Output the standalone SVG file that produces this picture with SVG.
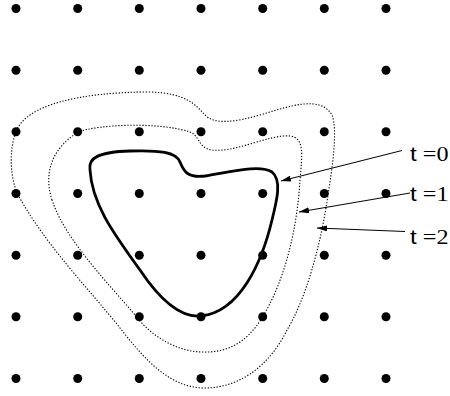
<svg xmlns="http://www.w3.org/2000/svg" width="450" height="396" viewBox="0 0 450 396">
<style>
.dot{fill:#000}
.c0{fill:none;stroke:#000;stroke-width:2.8;stroke-linejoin:round}
.cd{fill:none;stroke:#000;stroke-width:1.1;stroke-dasharray:1.3 1.7}
.arr{fill:none;stroke:#000;stroke-width:1;marker-end:url(#ah)}
.lbl{font-family:"Liberation Serif",serif;font-size:20px;fill:#000}
.ts{font-family:"Liberation Sans",sans-serif}
</style>
<defs>
<marker id="ah" viewBox="0 0 10 6" refX="10" refY="3" markerWidth="10" markerHeight="6" markerUnits="userSpaceOnUse" orient="auto">
<path d="M0,0 L10,3 L0,6 Z" fill="#000"/>
</marker>
<circle id="d" r="4.5"/>
</defs>
<g id="grid" class="dot">
<use href="#d" x="16" y="8.5"/><use href="#d" x="77.7" y="8.5"/><use href="#d" x="139.3" y="8.5"/><use href="#d" x="201" y="8.5"/><use href="#d" x="262.7" y="8.5"/><use href="#d" x="324.3" y="8.5"/><use href="#d" x="386" y="8.5"/>
<use href="#d" x="16" y="70.2"/><use href="#d" x="77.7" y="70.2"/><use href="#d" x="139.3" y="70.2"/><use href="#d" x="201" y="70.2"/><use href="#d" x="262.7" y="70.2"/><use href="#d" x="324.3" y="70.2"/><use href="#d" x="386" y="70.2"/>
<use href="#d" x="16" y="131.8"/><use href="#d" x="77.7" y="131.8"/><use href="#d" x="139.3" y="131.8"/><use href="#d" x="201" y="131.8"/><use href="#d" x="262.7" y="131.8"/><use href="#d" x="324.3" y="131.8"/><use href="#d" x="386" y="131.8"/>
<use href="#d" x="16" y="193.5"/><use href="#d" x="77.7" y="193.5"/><use href="#d" x="139.3" y="193.5"/><use href="#d" x="201" y="193.5"/><use href="#d" x="262.7" y="193.5"/><use href="#d" x="324.3" y="193.5"/><use href="#d" x="386" y="193.5"/>
<use href="#d" x="16" y="255.2"/><use href="#d" x="77.7" y="255.2"/><use href="#d" x="139.3" y="255.2"/><use href="#d" x="201" y="255.2"/><use href="#d" x="262.7" y="255.2"/><use href="#d" x="324.3" y="255.2"/><use href="#d" x="386" y="255.2"/>
<use href="#d" x="16" y="316.8"/><use href="#d" x="77.7" y="316.8"/><use href="#d" x="139.3" y="316.8"/><use href="#d" x="201" y="316.8"/><use href="#d" x="262.7" y="316.8"/><use href="#d" x="324.3" y="316.8"/><use href="#d" x="386" y="316.8"/>
<use href="#d" x="16" y="378.5"/><use href="#d" x="77.7" y="378.5"/><use href="#d" x="139.3" y="378.5"/><use href="#d" x="201" y="378.5"/><use href="#d" x="262.7" y="378.5"/><use href="#d" x="324.3" y="378.5"/><use href="#d" x="386" y="378.5"/>
</g>
<g id="curve-t0">
<path class="c0" d="M90,170 C88,158 98,152 130,151 C160,150 176,152 180,162 C184,172 188,178 205,176 C230,172 260,164 272,172 C282,180 277,200 272,220 C262,262 240,312 201,316 C180,318 160,300 140,270 C115,235 92,205 90,170 Z"/>
</g>
<g id="curve-t1">
<path class="cd" d="M52,200 C44,175 50,150 78,132 C100,124 160,122 190,132 C200,136 198,148 212,150 C235,153 270,134 290,136 C305,138 302,155 300,180 C297,230 285,280 262,318 C245,345 225,353 201,352 C175,351 150,335 135,315 C110,285 65,240 52,200 Z"/>
</g>
<g id="curve-t2">
<path class="cd" d="M17,193 C10,175 9,150 16,132 C25,105 80,92 150,92 C185,93 195,104 205,115 C215,125 235,122 260,115 C290,106 320,95 332,115 C338,130 332,170 328,195 C320,250 305,300 287,330 C270,365 240,388 205,388 C170,388 145,360 120,328 C90,290 45,245 17,193 Z"/>
</g>
<g id="connectors">
<line class="arr" x1="402" y1="150.5" x2="281" y2="181"/>
<line class="arr" x1="410" y1="193" x2="299" y2="212"/>
<line class="arr" x1="405" y1="231.5" x2="317" y2="228"/>
</g>
<g id="label-t0"><text class="lbl" x="410" y="160.5" textLength="38.5" lengthAdjust="spacingAndGlyphs"><tspan class="ts">t</tspan> =0</text></g>
<g id="label-t1"><text class="lbl" x="410" y="200.5" textLength="38.5" lengthAdjust="spacingAndGlyphs"><tspan class="ts">t</tspan> =1</text></g>
<g id="label-t2"><text class="lbl" x="410" y="243.5" textLength="38.5" lengthAdjust="spacingAndGlyphs"><tspan class="ts">t</tspan> =2</text></g>
</svg>
